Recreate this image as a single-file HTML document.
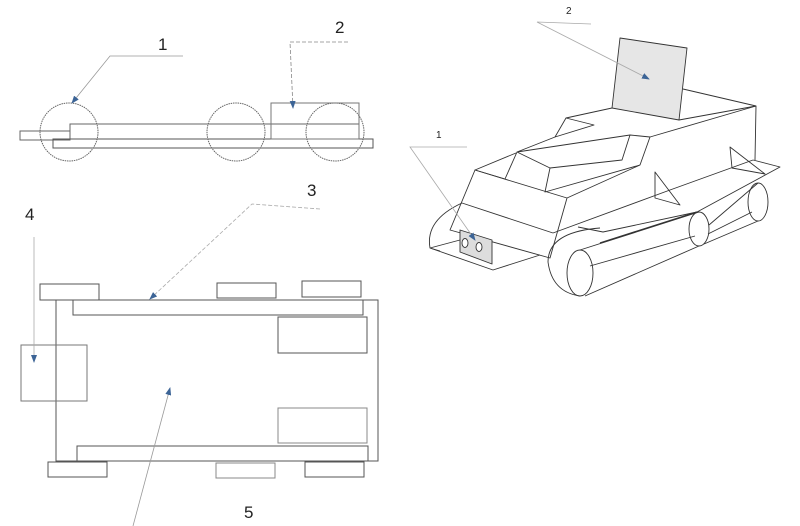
<!DOCTYPE html>
<html><head><meta charset="utf-8"><style>
html,body{margin:0;padding:0;background:#fff;}
svg{display:block}
text{font-family:"Liberation Sans",sans-serif;fill:#222}
</style></head><body>
<svg width="800" height="526" viewBox="0 0 800 526" xmlns="http://www.w3.org/2000/svg">
<defs>
<marker id="a" markerWidth="8" markerHeight="6" refX="7" refY="3" orient="auto" markerUnits="userSpaceOnUse"><path d="M0,0 L8,3 L0,6z" fill="#3c6496"/></marker>
</defs>
<rect width="800" height="526" fill="#fff"/>
<!-- SIDE VIEW -->
<g fill="none" stroke="#666" stroke-width="1">
<rect x="20" y="131" width="50" height="9"/>
<path d="M70 131 V124 H359 V138"/>
<rect x="53" y="139" width="320" height="9" stroke="#555"/>
<rect x="271" y="103" width="88" height="36" stroke="#777"/>
<circle cx="69" cy="132" r="29" stroke="#666" stroke-dasharray="1.5 0.8"/>
<circle cx="236" cy="132" r="29" stroke="#666" stroke-dasharray="1.5 0.8"/>
<circle cx="335" cy="132" r="29" stroke="#666" stroke-dasharray="1.5 0.8"/>
</g>
<text x="158" y="50" font-size="17">1</text>
<text x="335" y="33" font-size="17">2</text>
<path d="M183 56 H110 L72 103" fill="none" stroke="#999" stroke-width="0.8" marker-end="url(#a)"/>
<path d="M348 42 H290 L293 108" fill="none" stroke="#888" stroke-width="0.8" stroke-dasharray="4 2" marker-end="url(#a)"/>
<!-- TOP VIEW -->
<g fill="none" stroke="#555" stroke-width="1">
<path d="M56 461 V300 H378 V461 Z"/>
<rect x="73" y="300" width="290" height="15"/>
<rect x="77" y="446" width="291" height="15"/>
<rect x="278" y="317" width="89" height="36"/>
<rect x="278" y="408" width="89" height="35" stroke="#888"/>
<rect x="21" y="345" width="66" height="56" stroke="#777"/>
<rect x="40" y="284" width="59" height="16"/>
<rect x="217" y="283" width="59" height="15"/>
<rect x="302" y="281" width="59" height="16"/>
<rect x="48" y="462" width="59" height="15"/>
<rect x="216" y="463" width="59" height="15" stroke="#888"/>
<rect x="305" y="462" width="59" height="15"/>
</g>
<text x="307" y="196" font-size="17">3</text>
<text x="25" y="220" font-size="17">4</text>
<text x="244" y="518" font-size="17">5</text>
<path d="M320 209 L252 204 L150 299" fill="none" stroke="#aaa" stroke-width="0.8" stroke-dasharray="4 2" marker-end="url(#a)"/>
<path d="M34 237 V362" fill="none" stroke="#aaa" stroke-width="0.8" marker-end="url(#a)"/>
<path d="M133 526 L170 388" fill="none" stroke="#999" stroke-width="0.8" marker-end="url(#a)"/>
<!-- 3D VIEW -->
<g fill="none" stroke="#333" stroke-width="0.9" stroke-linejoin="round">
<polygon points="620,38 687,48 679,120 612,108" fill="#e6e6e6"/>
<path d="M683 89 L756 106 L755 160"/>
<path d="M679 120 L756 106"/>
<path d="M612 108 L566 118 L594 125 L555 137 L566 118"/>
<path d="M555 137 L517 152 L630 135 L650 137 L756 106"/>
<path d="M630 135 L622 160 L550 168 L517 152"/>
<path d="M650 137 L640 165 L545 192 L550 168"/>
<path d="M517 152 L505 179"/>
<path d="M505 179 L475 170 L516 153"/>
<path d="M475 170 L567 198 L550 258 L450 230 Z"/>
<path d="M462 203 L553 233"/>
<path d="M567 198 L640 165"/>
<path d="M553 233 L670 190 L753 160"/>
<path d="M753 160 L780 167 L697 212"/>
<path d="M655 172 L655 198 L680 205 Z"/>
<path d="M730 147 L732 168 L765 174 Z"/>
<path d="M578 227 L603 232 L697 212"/>
<path d="M600 243 L697 212" stroke-width="1.4"/>
<path d="M600 228 Q548 232 548 262 Q552 292 580 296"/>
<ellipse cx="580" cy="273" rx="13" ry="23" fill="#fff"/>
<ellipse cx="699" cy="229" rx="10" ry="17" fill="#fff"/>
<ellipse cx="758" cy="202" rx="10" ry="19" fill="#fff"/>
<path d="M580 250 L699 212 M709 225 L758 183"/>
<path d="M585 296 L699 246 M704 244 L758 221"/>
<path d="M590 266 L695 236 M708 234 L752 212"/>
<path d="M462 203 Q425 220 430 248 L440 251"/>
<path d="M430 248 L493 270 L540 255"/>
<path d="M430 248 L460 240"/>
<polygon points="460,230 492,240 492,264 460,252" fill="#ddd"/>
<ellipse cx="465" cy="243" rx="3" ry="4.5" fill="#fff"/>
<ellipse cx="479" cy="247" rx="3" ry="4.5" fill="#fff"/>
</g>
<text x="566" y="14" font-size="10">2</text>
<text x="436" y="138" font-size="10">1</text>
<path d="M591 24 L537 22 L649 79" fill="none" stroke="#aaa" stroke-width="0.8" marker-end="url(#a)"/>
<path d="M467 147 H410 L475 240" fill="none" stroke="#aaa" stroke-width="0.8" marker-end="url(#a)"/>
</svg>
</body></html>
